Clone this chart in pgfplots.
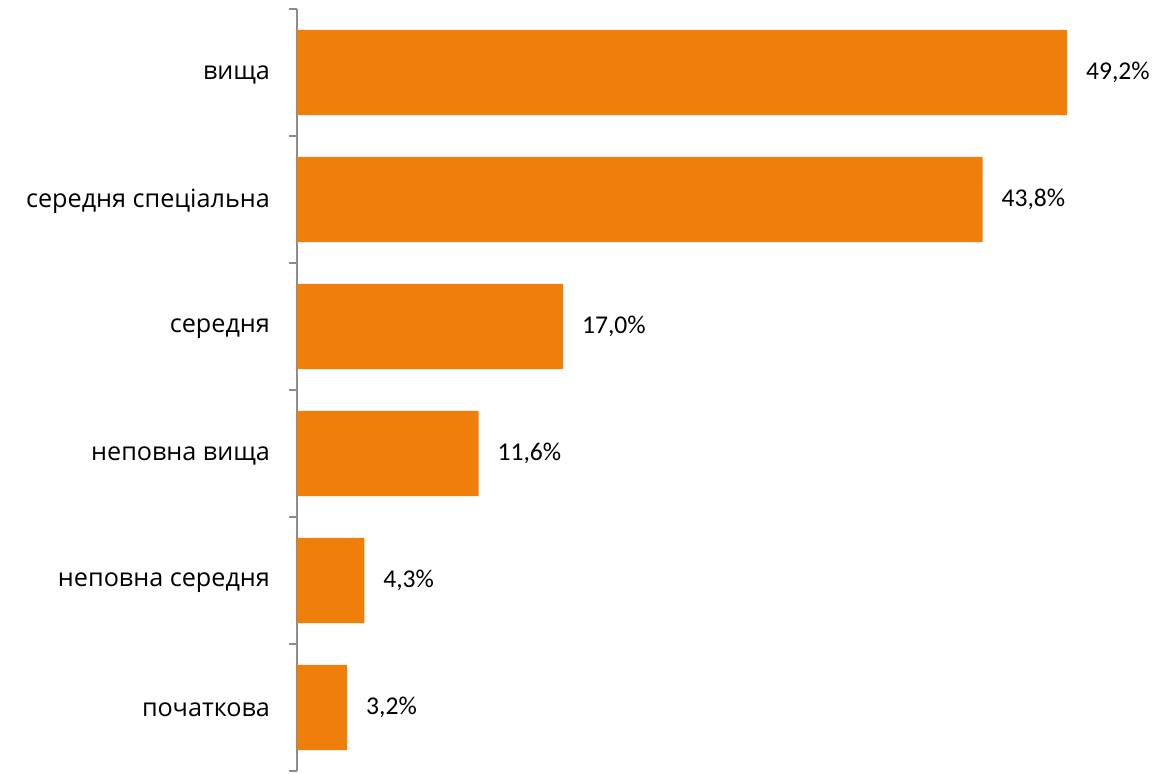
\documentclass[border=0pt]{standalone}
\usepackage{fontspec}
\setmainfont{Open Sans}
\newfontfamily\valfont{Carlito}
\usepackage{pgfplots}
\pgfplotsset{compat=1.18}
\definecolor{barorange}{HTML}{EF7F0A}
\definecolor{axgray}{HTML}{8C8C8C}
\begin{document}
\begin{tikzpicture}
\path[use as bounding box] (-148.5pt,-1pt) rectangle (429pt,385.5pt);
\begin{axis}[
  at={(0,0)}, anchor=south west,
  scale only axis, width=429pt, height=381pt,
  xmin=0, xmax=54.82, ymin=-0.5, ymax=5.5,
  separate axis lines,
  axis x line=none, axis y line*=left,
  y axis line style={draw=axgray, line width=1pt},
  ytick={0,...,5},
  yticklabels={початкова, неповна середня, неповна вища, середня, середня спеціальна, вища},
  major tick length=0pt,
  minor ytick={-0.5,0.5,...,5.5},
  minor tick length=4pt, tick align=outside,
  every minor tick/.style={draw=axgray, line width=1pt},
  yticklabel style={font=\fontsize{12.6}{15}\selectfont, text=black, xshift=-10pt, yshift=-1pt},
  xbar, bar width=0.67,
  point meta=x,
  nodes near coords={\pgfmathprintnumber[fixed,fixed zerofill,precision=1,use comma,assume math mode=true]{\pgfplotspointmeta}\%},
  nodes near coords style={font=\valfont\fontsize{12.8}{15}\selectfont, text=black, anchor=west, xshift=6pt},
]
\addplot[fill=barorange, draw=none] coordinates {(3.2,0) (4.3,1) (11.6,2) (17.0,3) (43.8,4) (49.2,5)};
\end{axis}
\end{tikzpicture}
\end{document}
